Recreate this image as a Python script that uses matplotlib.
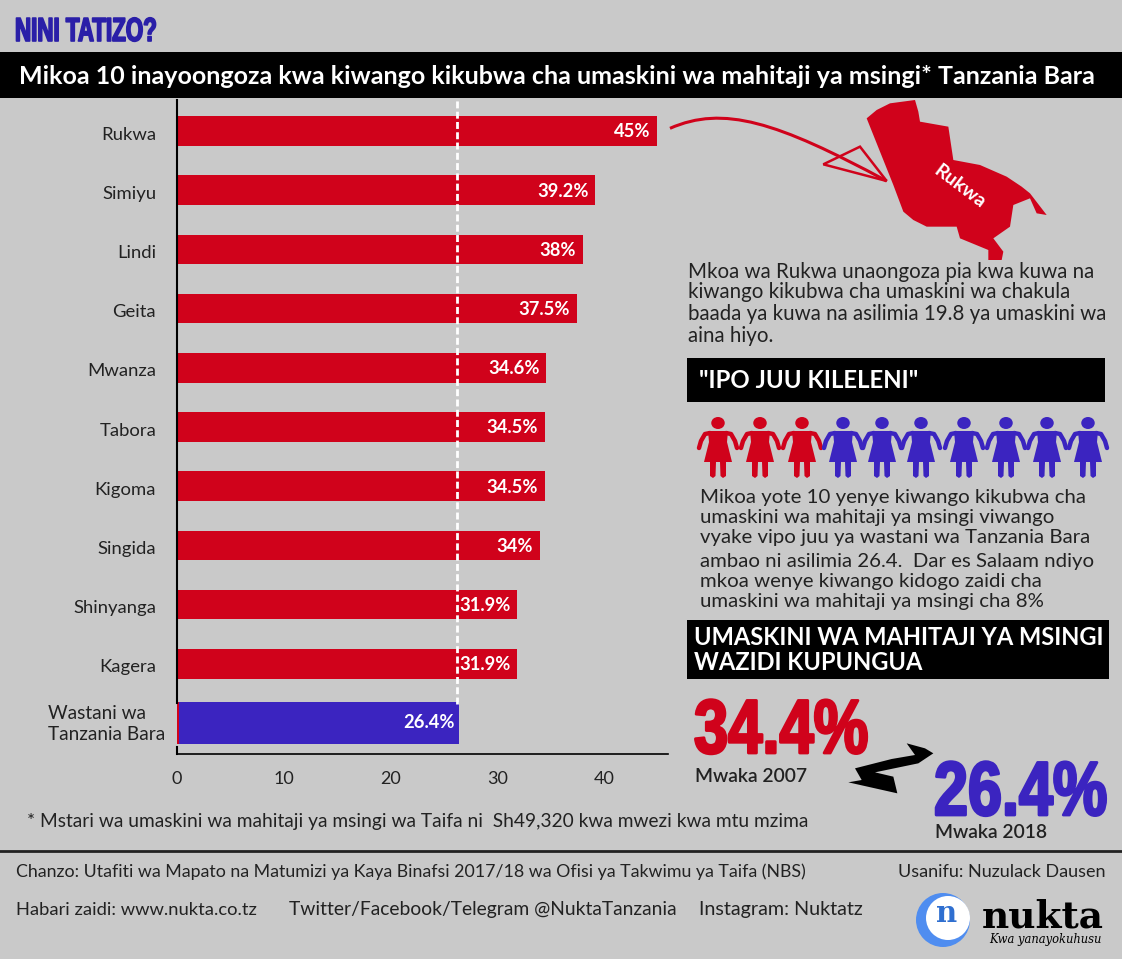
import matplotlib
matplotlib.use("Agg")
import matplotlib.pyplot as plt
import matplotlib.patheffects as pe
from matplotlib.patches import Rectangle, Polygon, Circle, Ellipse, PathPatch
from matplotlib.path import Path
from matplotlib.transforms import Affine2D, Bbox

regions = ["Rukwa", "Simiyu", "Lindi", "Geita", "Mwanza", "Tabora", "Kigoma", "Singida", "Shinyanga", "Kagera"]
rates = [45, 39.2, 38, 37.5, 34.6, 34.5, 34.5, 34, 31.9, 31.9]
rate_labels = ["45%", "39.2%", "38%", "37.5%", "34.6%", "34.5%", "34.5%", "34%", "31.9%", "31.9%"]
avg_label = "Wastani wa\nTanzania Bara"
avg_rate = 26.4
x_ticks = [0, 10, 20, 30, 40]

rukwa_lines = ["Mkoa wa Rukwa unaongoza pia kwa kuwa na",
               "kiwango kikubwa cha umaskini wa chakula",
               "baada ya kuwa na asilimia 19.8 ya umaskini wa",
               "aina hiyo."]
rukwa_line_y = [272, 292, 314, 336]
mikoa_lines = ["Mikoa yote 10 yenye kiwango kikubwa cha",
               "umaskini wa mahitaji ya msingi viwango",
               "vyake vipo juu ya wastani wa Tanzania Bara",
               "ambao ni asilimia 26.4.  Dar es Salaam ndiyo",
               "mkoa wenye kiwango kidogo zaidi cha",
               "umaskini wa mahitaji ya msingi cha 8%"]
mikoa_line_y = [498, 518, 538, 561, 581, 601]

RED = "#d0021b"
BLUE = "#3b24c0"
BG = "#c9c9c9"
INK = "#222222"
W, H = 1122, 959

plt.rcParams['font.family'] = ['Lato', 'DejaVu Sans']
fig = plt.figure(figsize=(W / 100, H / 100), dpi=100, facecolor=BG)


class Squeeze(pe.AbstractPathEffect):
    # no condensed font installed, so narrow the glyphs around the text's left edge
    def __init__(self, sx, x0, stroke):
        super().__init__()
        self.sx = sx
        self.x0 = x0
        self.stroke = stroke

    def draw_path(self, renderer, gc, tpath, affine, rgbFace=None):
        gc0 = renderer.new_gc()
        gc0.copy_properties(gc)
        gc0.set_linewidth(self.stroke)
        gc0.set_foreground(rgbFace)
        squeezed = affine + Affine2D().translate(-self.x0, 0).scale(self.sx, 1).translate(self.x0, 0)
        renderer.draw_path(gc0, tpath, squeezed, rgbFace)
        gc0.restore()


def squeezed_text(axes, x, y, s, sx, stroke, **kw):
    t = axes.text(x, y, s, va="baseline", weight="bold", family="Liberation Sans",
                  path_effects=[Squeeze(sx, x, stroke)], **kw)
    full_extent = t.get_window_extent

    # report the width that is really drawn, not the unsqueezed one
    def extent(renderer=None, dpi=None):
        box = full_extent(renderer, dpi)
        return Bbox.from_extents(x + (box.x0 - x) * sx, box.y0, x + (box.x1 - x) * sx, box.y1)

    t.get_window_extent = extent
    return t


# overlay in pixel coordinates for the infographic parts
bg = fig.add_axes([0, 0, 1, 1])
bg.set_xlim(0, W)
bg.set_ylim(H, 0)
bg.axis("off")

squeezed_text(bg, 15, 41, "NINI TATIZO?", 0.67, 1.2, fontsize=24, color="#2a1fa8")
bg.add_patch(Rectangle((0, 52), W, 46, color="black", lw=0))
bg.text(557, 76, "Mikoa 10 inayoongoza kwa kiwango kikubwa cha umaskini wa mahitaji ya msingi* Tanzania Bara",
        fontsize=17.97, color="white", weight="bold", ha="center", va="center")

# bar chart
ax = fig.add_axes([177 / W, 1 - 754 / H, (668 - 177) / W, (754 - 100) / H])
ax.patch.set_alpha(0)
ypos = list(range(len(regions)))
ax.barh(ypos, rates, height=0.5, color=RED)
ax.barh([10.0], [avg_rate], height=0.7, color=BLUE)
ax.barh([10.0], [0.2], height=0.7, color=RED)
ax.set_ylim(10.524, -0.524)
ax.set_xlim(0, 46)
ax.axvline(avg_rate - 0.15, color="white", lw=2, ls=(0, (2.5, 1.2)), ymin=0.076)
for i, (v, t) in enumerate(zip(rates, rate_labels)):
    ax.text(v - 0.65, i + 0.015, t, color="white", weight="bold", fontsize=13.2, ha="right", va="center")
ax.text(avg_rate - 0.4, 10, f"{avg_rate}%", color="white", weight="bold", fontsize=13.2, ha="right", va="center")
ax.set_yticks(ypos)
ax.set_yticklabels(regions, fontsize=13.3, color=INK)
ax.tick_params(axis="y", length=0, pad=15)
for lbl in ax.get_yticklabels():
    lbl.set_transform(lbl.get_transform() + Affine2D().translate(0, -2))
ax.set_xticks(x_ticks)
ax.tick_params(axis="x", labelsize=13, length=0, pad=12, labelcolor=INK)
for s in ["top", "right"]:
    ax.spines[s].set_visible(False)
ax.spines["left"].set_bounds(-0.524, 9.67)
ax.spines["left"].set_linewidth(1.5)
ax.spines["bottom"].set_linewidth(1.2)
ax.plot([0, 0], [10.4, 10.524], color="black", lw=1.5, clip_on=False)
bg.text(48, 724, avg_label, fontsize=13.7, color=INK, ha="left", va="center", linespacing=1.27)

# top layer for annotations
top = fig.add_axes([0, 0, 1, 1])
top.set_xlim(0, W)
top.set_ylim(H, 0)
top.axis("off")
top.patch.set_alpha(0)


def zoomed(points, ox, oy):
    return [(ox + x / 3, oy + y / 3) for x, y in points]


# Rukwa map
rukwa_outline = [(620, 70), (650, 45), (690, 25), (765, 15), (775, 50), (780, 80), (865, 95), (880, 195),
                 (960, 210), (1040, 245), (1085, 275), (1110, 295), (1160, 360), (1130, 355), (1110, 310),
                 (1060, 330), (1050, 395), (1000, 430), (1030, 470), (1025, 495), (985, 495), (985, 465),
                 (900, 430), (890, 395), (800, 395), (760, 375), (730, 350), (700, 270), (660, 170)]
top.add_patch(Polygon(zoomed(rukwa_outline, 660, 95), closed=True, color=RED, lw=0))
top.text(960, 187, "Rukwa", color="white", fontsize=14, weight="bold", rotation=-37, ha="center", va="center")

# hand drawn arrow with hollow head
curve = zoomed([(30, 100), (190, 30), (350, 80), (680, 258)], 660, 95)
top.add_patch(PathPatch(Path(curve, [Path.MOVETO, Path.CURVE4, Path.CURVE4, Path.CURVE4]),
                        fill=False, edgecolor=RED, lw=2.2))
top.add_patch(Polygon(zoomed([(490, 208), (600, 155), (680, 258)], 660, 95), closed=True, fill=False,
                      edgecolor=RED, lw=1.8))

for line, y in zip(rukwa_lines, rukwa_line_y):
    top.text(688, y, line, fontsize=14.8, color=INK, va="center")

top.add_patch(Rectangle((687, 358), 418, 44, color="black", lw=0))
top.text(699, 380, '"IPO JUU KILELENI"', color="white", fontsize=17.3, weight="bold", va="center")


# people icons: first three red, the rest blue
def person(cx, color):
    top.add_patch(Ellipse((cx, 423), 13.5, 12, color=color, lw=0))
    top.add_patch(Polygon([(cx - 10, 431), (cx + 10, 431), (cx + 9, 442), (cx + 14, 462), (cx + 8, 462),
                           (cx + 8, 476), (cx + 5, 478), (cx + 2.5, 476), (cx + 2, 462), (cx - 2, 462),
                           (cx - 2.5, 476), (cx - 5, 478), (cx - 8, 476), (cx - 8, 462), (cx - 14, 462),
                           (cx - 9, 442)], closed=True, color=color, lw=0))
    for side in (-1, 1):
        arm = [(cx + side * 8, 433), (cx + side * 13, 434), (cx + side * 17, 441), (cx + side * 19, 448)]
        top.plot([p[0] for p in arm], [p[1] for p in arm], color=color, lw=3.2, solid_capstyle="round")


icon_colors = [RED] * 3 + [BLUE] * 7
icon_x = [718, 760, 802, 843, 882, 921, 964, 1006, 1047, 1088]
for cx, c in zip(icon_x, icon_colors):
    person(cx, c)

for line, y in zip(mikoa_lines, mikoa_line_y):
    top.text(700, y, line, fontsize=14.7, color=INK, va="center")

top.add_patch(Rectangle((687, 620), 422, 59, color="black", lw=0))
top.text(694, 650, "UMASKINI WA MAHITAJI YA MSINGI\nWAZIDI KUPUNGUA", color="white", fontsize=17,
         weight="bold", va="center", linespacing=1.12)

squeezed_text(top, 694, 753, "34.4%", 0.805, 2, color=RED, fontsize=55)
top.text(695, 777, "Mwaka 2007", color=INK, fontsize=13.9, weight="semibold", va="center")
squeezed_text(top, 934, 815, "26.4%", 0.80, 2, color=BLUE, fontsize=55)
top.text(935, 832, "Mwaka 2018", color=INK, fontsize=13.9, weight="semibold", va="center")

swoosh = [(665, 175), (720, 190), (745, 205), (700, 235), (570, 262), (625, 275), (637, 325), (490, 292),
          (530, 285), (510, 250), (620, 222), (690, 210)]
top.add_patch(Polygon(zoomed(swoosh, 685, 685), closed=True, color="black", lw=0))

top.text(27, 821, "* Mstari wa umaskini wa mahitaji ya msingi wa Taifa ni  Sh49,320 kwa mwezi kwa mtu mzima",
         fontsize=13.75, color=INK, va="center")
top.plot([0, W], [851, 851], color=INK, lw=2)
top.text(16, 872, "Chanzo: Utafiti wa Mapato na Matumizi ya Kaya Binafsi 2017/18 wa Ofisi ya Takwimu ya Taifa (NBS)",
         fontsize=12.77, color=INK, va="center")
top.text(1106, 872, "Usanifu: Nuzulack Dausen", fontsize=13, color=INK, va="center", ha="right")
top.text(16, 910, "Habari zaidi: www.nukta.co.tz", fontsize=13.2, color=INK, va="center")
top.text(289, 910, "Twitter/Facebook/Telegram @NuktaTanzania", fontsize=13.85, color=INK, va="center")
top.text(699, 910, "Instagram: Nuktatz", fontsize=14.2, color=INK, va="center")

# logo
top.add_patch(Circle((943, 920), 27, color="#4f8df0", lw=0))
top.add_patch(Circle((948, 918), 22, color="white", lw=0))
top.text(947, 914, "n", color="#2f6fd0", fontsize=21, weight="bold", ha="center", va="center", family="DejaVu Serif")
top.text(982, 917, "nukta", color="black", fontsize=27, weight="bold", va="center", family="DejaVu Serif")
top.text(989, 940, "Kwa yanayokuhusu", color="black", fontsize=8.3, style="italic", va="center", family="DejaVu Serif")

fig.savefig("out.png", dpi=100, facecolor=BG)
